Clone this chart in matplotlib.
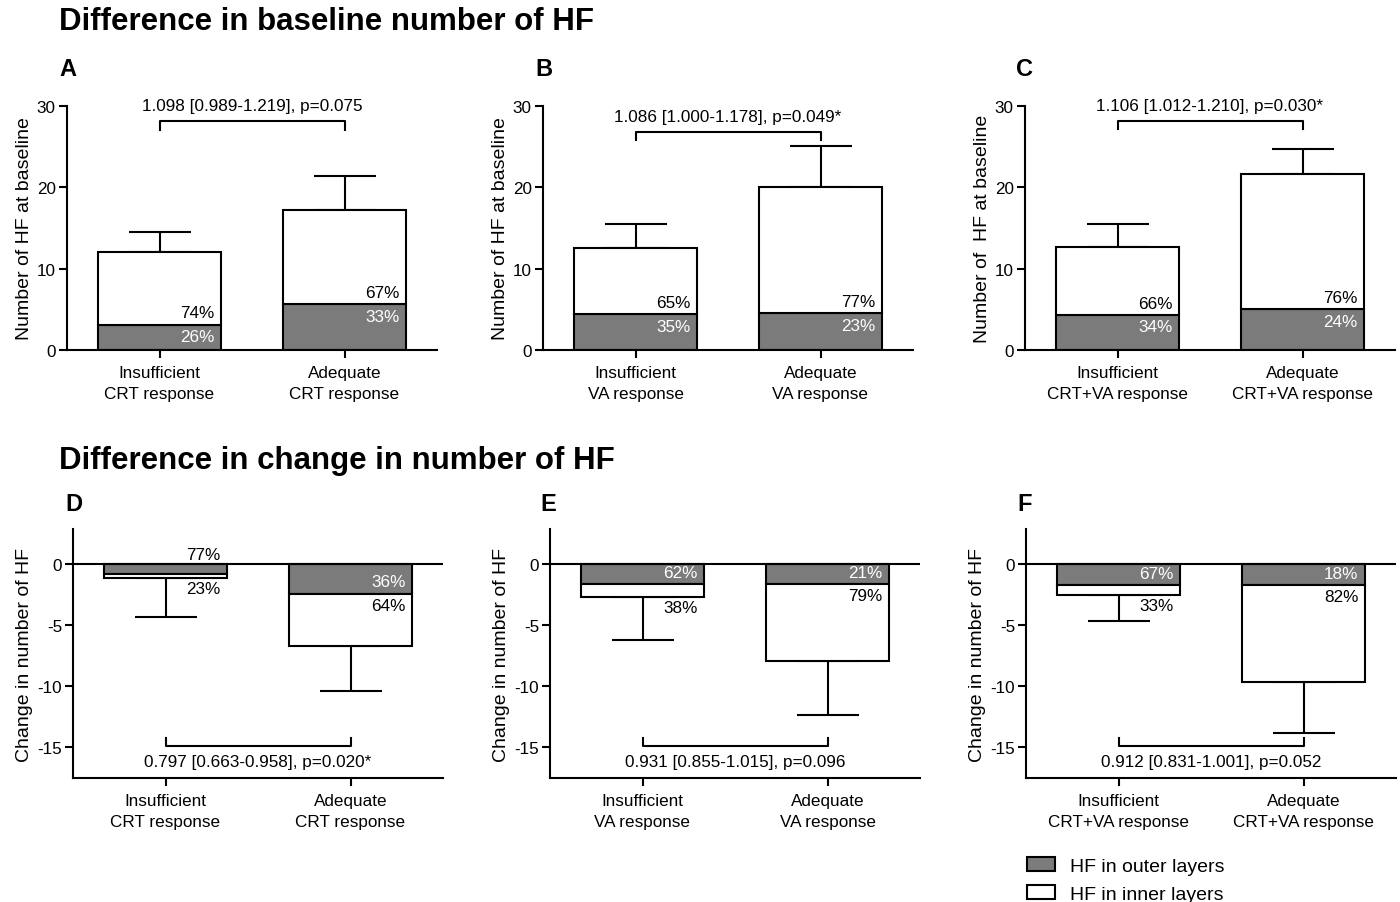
import numpy as np
import matplotlib.pyplot as plt
from matplotlib.patches import Patch

plt.rcParams['font.family'] = ['Liberation Sans', 'DejaVu Sans']
plt.rcParams['axes.linewidth'] = 1.5
plt.rcParams['axes.unicode_minus'] = False

# Data
groups = ['CRT', 'VA', 'CRT+VA']
categories = ['Insufficient', 'Adequate']

# baseline number of HF (top row)
base_total = [[12.0, 17.2], [12.5, 20.1], [12.7, 21.7]]
base_outer = [[3.1, 5.6], [4.4, 4.5], [4.3, 5.0]]
base_err_top = [[14.5, 21.4], [15.5, 25.1], [15.5, 24.7]]
base_pct_outer = [['26%', '33%'], ['35%', '23%'], ['34%', '24%']]
base_pct_inner = [['74%', '67%'], ['65%', '77%'], ['66%', '76%']]
base_stats = ['1.098 [0.989-1.219], p=0.075',
              '1.086 [1.000-1.178], p=0.049*',
              '1.106 [1.012-1.210], p=0.030*']
base_ylabels = ['Number of HF at baseline', 'Number of HF at baseline',
                'Number of  HF at baseline']

# change in number of HF (bottom row)
chg_total = [[-1.1, -6.7], [-2.7, -7.9], [-2.5, -9.6]]
chg_outer = [[-0.8, -2.4], [-1.6, -1.6], [-1.7, -1.7]]
chg_err_bot = [[-4.3, -10.4], [-6.2, -12.3], [-4.6, -13.8]]
chg_pct_outer = [['77%', '36%'], ['62%', '21%'], ['67%', '18%']]
chg_pct_inner = [['23%', '64%'], ['38%', '79%'], ['33%', '82%']]
chg_stats = ['0.797 [0.663-0.958], p=0.020*',
             '0.931 [0.855-1.015], p=0.096',
             '0.912 [0.831-1.001], p=0.052']

GRAY = '#7b7b7b'
W, H = 1400, 903
BW = 0.67
FS = 12.3

fig = plt.figure(figsize=(14, 9.03), dpi=100)


def px_axes(left, top, bottom, width=370):
    return fig.add_axes([left / W, (H - bottom) / H, width / W, (bottom - top) / H])


def draw_panel(ax, total, outer, err, pct_out, pct_in, grp, ylabel, sign):
    x = np.arange(2)
    span = np.abs(np.array(err) - np.array(total))
    yerr = [np.zeros(2), span] if sign > 0 else [span, np.zeros(2)]
    ax.errorbar(x, total, yerr=yerr, fmt='none', ecolor='black', elinewidth=1.5,
                capsize=22, capthick=1.5, zorder=1)
    ax.bar(x, outer, BW, color=GRAY, edgecolor='black', linewidth=1.5, zorder=2)
    ax.bar(x, np.array(total) - np.array(outer), BW, bottom=outer, color='white',
           edgecolor='black', linewidth=1.5, zorder=2)
    for i in range(2):
        xr = x[i] + BW / 2
        o, t = outer[i], total[i]
        # outer label: inside the gray part, near its edge, unless too thin
        if abs(o) < 1.5:
            ax.annotate(pct_out[i], (xr, 0), xytext=(-5, -7 * sign), textcoords='offset points',
                        ha='right', va='center', fontsize=FS, color='black', zorder=5)
        else:
            ax.annotate(pct_out[i], (xr, o), xytext=(-5, -8.5 * sign), textcoords='offset points',
                        ha='right', va='center', fontsize=FS, color='white', zorder=5)
        # inner label: just past the boundary, or past the bar end if too thin
        if abs(t - o) < 1.5:
            ax.annotate(pct_in[i], (xr, t), xytext=(-5, 7.5 * sign), textcoords='offset points',
                        ha='right', va='center', fontsize=FS, color='black', zorder=5)
        else:
            ax.annotate(pct_in[i], (xr, o), xytext=(-5, 8.5 * sign), textcoords='offset points',
                        ha='right', va='center', fontsize=FS, color='black', zorder=5)
    ax.set_xlim(-0.5, 1.5)
    ax.set_xticks(x)
    ax.set_xticklabels([f'{c}\n{grp} response' for c in categories], fontsize=13,
                       linespacing=1.45)
    ax.spines['top'].set_visible(False)
    ax.spines['right'].set_visible(False)
    ax.tick_params(axis='both', direction='out', length=6, width=1.5, labelsize=FS)
    ax.tick_params(axis='x', pad=5)
    ax.tick_params(axis='y', pad=2)
    ax.set_ylabel(ylabel, fontsize=14)


top_lefts = [67, 543, 1025]
bot_lefts = [73, 550, 1026]
top_letters = [(59, 'A'), (535, 'B'), (1016, 'C')]
bot_letters = [(65, 'D'), (540, 'E'), (1017, 'F')]
base_bracket = [(28.2, 27.1), (26.8, 25.8), (28.2, 27.2)]

for k in range(3):
    ax = px_axes(top_lefts[k], 107, 351)
    draw_panel(ax, base_total[k], base_outer[k], base_err_top[k],
               base_pct_outer[k], base_pct_inner[k], groups[k], base_ylabels[k], 1)
    ax.set_ylim(0, 30)
    ax.set_yticks([0, 10, 20, 30])
    ax.yaxis.labelpad = 2.5
    yb, yl = base_bracket[k]
    ax.plot([0, 0, 1, 1], [yl, yb, yb, yl], color='black', lw=1.5, clip_on=False)
    ax.text(0.5, yb + 1.0, base_stats[k], ha='center', va='bottom', fontsize=FS, clip_on=False)

    ax = px_axes(bot_lefts[k], 530, 779)
    draw_panel(ax, chg_total[k], chg_outer[k], chg_err_bot[k],
               chg_pct_outer[k], chg_pct_inner[k], groups[k], 'Change in number of HF', -1)
    ax.set_ylim(-17.5, 2.9)
    ax.set_yticks([0, -5, -10, -15])
    ax.axhline(0, color='black', lw=1.5, zorder=4)
    ax.yaxis.labelpad = 3
    ax.plot([0, 0, 1, 1], [-14.2, -14.9, -14.9, -14.2], color='black', lw=1.5)
    ax.text(0.5, -15.5, chg_stats[k], ha='center', va='top', fontsize=FS)

for xp, letter in top_letters:
    fig.text(xp / W, 1 - 70 / H, letter, fontsize=17, fontweight='bold', va='center')
for xp, letter in bot_letters:
    fig.text(xp / W, 1 - 505 / H, letter, fontsize=17, fontweight='bold', va='center')

fig.text(59 / W, 1 - 22 / H, 'Difference in baseline number of HF', fontsize=22.5,
         fontweight='bold', va='center')
fig.text(59 / W, 1 - 461 / H, 'Difference in change in number of HF', fontsize=22.5,
         fontweight='bold', va='center')

handles = [Patch(facecolor=GRAY, edgecolor='black', linewidth=1.5, label='HF in outer layers'),
           Patch(facecolor='white', edgecolor='black', linewidth=1.5, label='HF in inner layers')]
fig.legend(handles=handles, loc='upper left', bbox_to_anchor=(1027 / W, 1 - 858 / H),
           frameon=False, fontsize=14, handlelength=1.45, handleheight=0.75,
           handletextpad=0.75, labelspacing=0.5, borderpad=0, borderaxespad=0)

fig.savefig('out.png', dpi=100)
